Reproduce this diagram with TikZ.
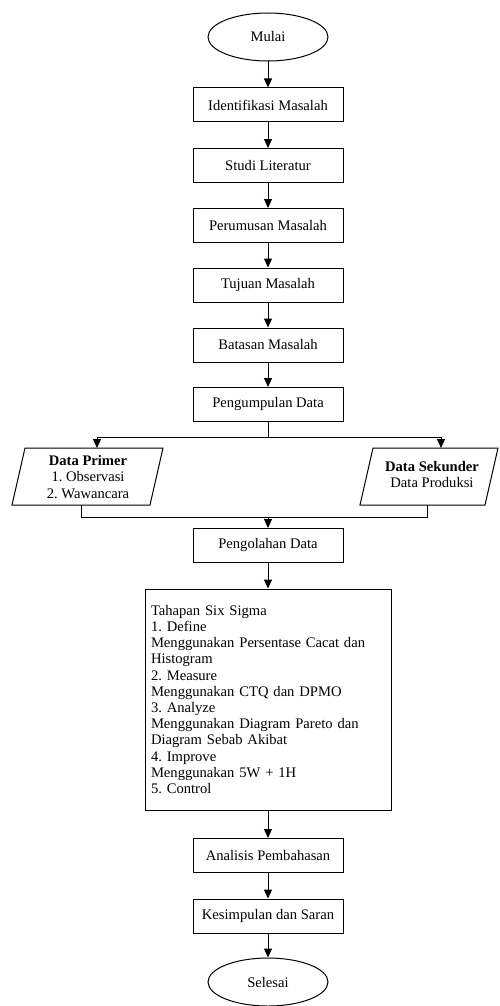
\documentclass[tikz,border=0pt]{standalone}
\usepackage{fontspec}
\setmainfont{Liberation Serif}
\usetikzlibrary{shapes.geometric,arrows.meta}
\begin{document}
\frenchspacing
\begin{tikzpicture}[x=1pt,y=-1pt,
  font=\fontsize{14.6}{16.2}\selectfont\frenchspacing,
  line width=1pt,
  box/.style={draw, rectangle, minimum width=150pt, minimum height=34pt, inner sep=0pt},
  term/.style={draw, ellipse, minimum width=120pt, minimum height=48pt, inner sep=0pt},
  arr/.style={-{Triangle[length=9pt,width=8pt]}},
  txt/.style={align=center, inner sep=0pt}]
\useasboundingbox (0,0) rectangle (499,1006);

\node[term] (mulai) at (268,37) {Mulai};
\node[box] (ident) at (268,105) {Identifikasi Masalah};
\node[box] (studi) at (268,165.5) {Studi Literatur};
\node[box] (rumus) at (268,225.5) {Perumusan Masalah};
\node[box] (tujuan) at (268,285) {Tujuan Masalah};
\node[box] (batas) at (268,345) {Batasan Masalah};
\node[box] (kumpul) at (268,404.5) {Pengumpulan Data};

% parallelograms
\coordinate (p1) at (25,448); \coordinate (p2) at (163,448);
\coordinate (p3) at (150,505); \coordinate (p4) at (12,505);
\draw (p1) -- (p2) -- (p3) -- (p4) -- cycle;
\node[txt] (primer) at (88,477) {\textbf{Data Primer}\\1. Observasi\\2. Wawancara};

\coordinate (s1) at (373,448); \coordinate (s2) at (498,448);
\coordinate (s3) at (485,505); \coordinate (s4) at (360,505);
\draw (s1) -- (s2) -- (s3) -- (s4) -- cycle;
\node[txt] (sekunder) at (432,474.5) {\textbf{Data Sekunder}\\Data Produksi};

\coordinate (split) at (268,437);
\coordinate (pin) at (97,448);
\coordinate (sin) at (441,448);
\coordinate (pout) at (81,505);
\coordinate (sout) at (427,505);
\coordinate (merge) at (268,517);

\node[box] (olah) at (268,545.5) {Pengolahan Data};
\node[draw, minimum width=246pt, minimum height=221pt, text width=234pt,
      inner xsep=6pt, inner ysep=0pt, align=left] (six) at (268,699.5)
  {Tahapan Six Sigma\\
   1. Define\\
   Menggunakan Persentase Cacat dan\\
   Histogram\\
   2. Measure\\
   Menggunakan CTQ dan DPMO\\
   3. Analyze\\
   Menggunakan Diagram Pareto dan\\
   Diagram Sebab Akibat\\
   4. Improve\\
   Menggunakan 5W + 1H\\
   5. Control};
\node[box] (analisis) at (268,855.5) {Analisis Pembahasan};
\node[box] (simpul) at (268,916) {Kesimpulan dan Saran};
\node[term] (selesai) at (268,982) {Selesai};

\draw[arr] (mulai) -- (ident);
\draw[arr] (ident) -- (studi);
\draw[arr] (studi) -- (rumus);
\draw[arr] (rumus) -- (tujuan);
\draw[arr] (tujuan) -- (batas);
\draw[arr] (batas) -- (kumpul);
\draw (kumpul) -- (split);
\draw[arr] (split) -| (pin);
\draw[arr] (split) -| (sin);
\draw (pout) |- (merge);
\draw (sout) |- (merge);
\draw[arr] (merge) -- (olah);
\draw[arr] (olah) -- (six);
\draw[arr] (six) -- (analisis);
\draw[arr] (analisis) -- (simpul);
\draw[arr] (simpul) -- (selesai);
\end{tikzpicture}
\end{document}
